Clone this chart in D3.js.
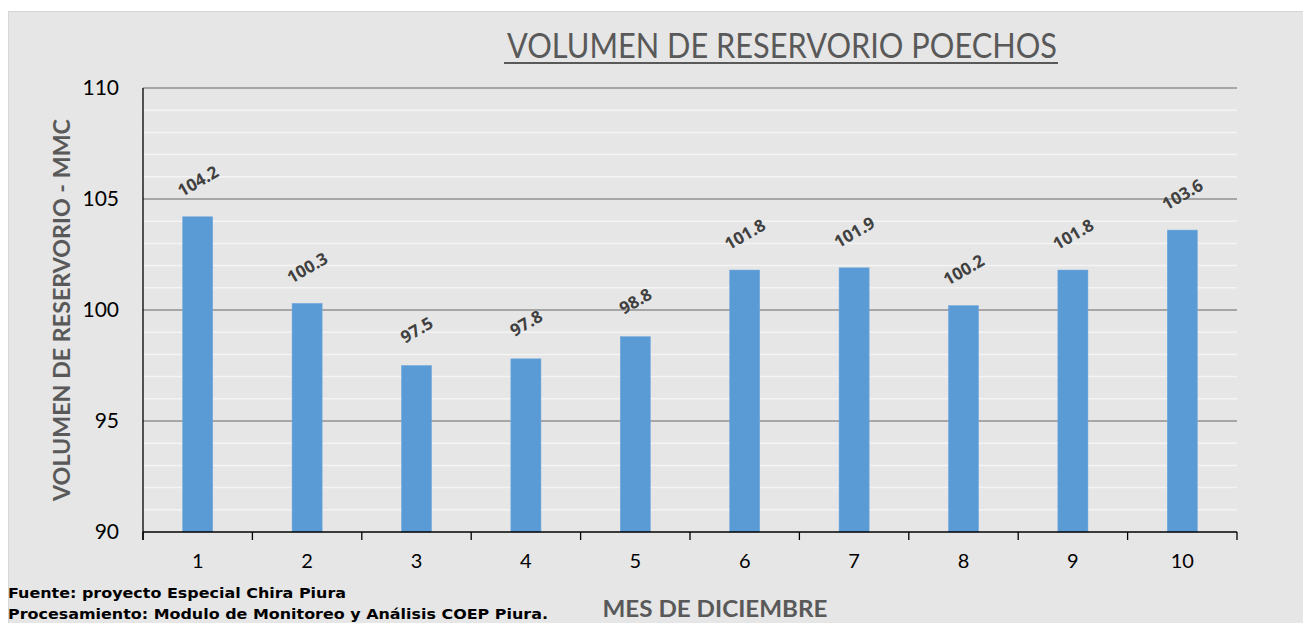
<!DOCTYPE html>
<html><head><meta charset="utf-8">
<script src="https://cdn.jsdelivr.net/npm/d3@7"></script>
<style>html,body{margin:0;padding:0;background:#fff;}svg{display:block;}</style>
</head><body>
<svg id="chart" width="1303" height="623"></svg>
<script>
const categories = ["1","2","3","4","5","6","7","8","9","10"];
const values = [104.2,100.3,97.5,97.8,98.8,101.8,101.9,100.2,101.8,103.6];
const yTicks = [90,95,100,105,110];
const minorTicks = [91,92,93,94,96,97,98,99,101,102,103,104,106,107,108,109];
const title = "VOLUMEN DE RESERVORIO POECHOS";
const yTitle = "VOLUMEN DE RESERVORIO - MMC";
const xTitle = "MES DE DICIEMBRE";
const notes = ["Fuente: proyecto Especial Chira Piura","Procesamiento: Modulo de Monitoreo y Análisis COEP Piura."];
const noteLengths = [338, 540];

const svg = d3.select("#chart");
const W = 1303, H = 623;
const m = {left:143, right:1237, top:88, bottom:532};

svg.append("rect").attr("x",8.5).attr("y",11.5).attr("width",W).attr("height",H)
  .attr("fill","#e6e6e6").attr("stroke","#d6d6d6").attr("stroke-width",1);

const x = d3.scaleBand().domain(categories).range([m.left,m.right]).paddingInner(0.725).paddingOuter(0.3625);
const xb = d3.scaleBand().domain(categories).range([m.left,m.right]);
const y = d3.scaleLinear().domain([90,110]).range([m.bottom,m.top]);

// minor grid
svg.append("g").selectAll("line").data(minorTicks).join("line")
  .attr("x1",m.left).attr("x2",m.right).attr("y1",d=>y(d)).attr("y2",d=>y(d))
  .attr("stroke","#f4f4f4").attr("stroke-width",1.5);
// major grid
svg.append("g").selectAll("line").data(yTicks.filter(d=>d>90)).join("line")
  .attr("x1",m.left).attr("x2",m.right).attr("y1",d=>y(d)).attr("y2",d=>y(d))
  .attr("stroke","#a6a6a6").attr("stroke-width",2);

// bars
svg.append("g").selectAll("rect").data(values).join("rect")
  .attr("x",(d,i)=>x(categories[i])).attr("width",x.bandwidth())
  .attr("y",d=>y(d)).attr("height",d=>y(90)-y(d))
  .attr("fill","#5b9bd5").attr("stroke","#6fa8dc").attr("stroke-width",0.5);

// y axis
const ya = svg.append("g").attr("transform",`translate(${m.left},0)`)
  .call(d3.axisLeft(y).tickValues(yTicks).tickSize(0).tickPadding(24).tickFormat(d3.format("d")));
ya.select(".domain").attr("stroke","#000").attr("stroke-width",1.3).attr("d",`M0,${m.top}V${m.bottom+8}`);
ya.selectAll("text").attr("font-family","Lato, Carlito, sans-serif").attr("font-size",21).attr("fill","#000");

// x axis
const xa = svg.append("g").attr("transform",`translate(0,${m.bottom})`)
  .call(d3.axisBottom(xb).tickSize(0).tickPadding(22));
xa.select(".domain").attr("stroke","#000").attr("stroke-width",1.3).attr("d",`M${m.left},0H${m.right}`);
xa.selectAll("text").attr("font-family","Lato, Carlito, sans-serif").attr("font-size",20).attr("fill","#000");
const bounds = categories.map(c=>xb(c)).concat([m.right]);
svg.append("g").selectAll("line").data(bounds).join("line")
  .attr("x1",d=>d).attr("x2",d=>d).attr("y1",m.bottom).attr("y2",m.bottom+8)
  .attr("stroke","#000").attr("stroke-width",1.3);

// data labels
svg.append("g").selectAll("text").data(values).join("text")
  .attr("transform",(d,i)=>`translate(${xb(categories[i])+xb.bandwidth()/2},${y(d)-36}) rotate(-30)`)
  .attr("text-anchor","middle").attr("dominant-baseline","central")
  .attr("font-family","'Open Sans', sans-serif").attr("font-weight","bold").attr("font-size",17)
  .attr("fill","#404040").text(d=>d3.format(".1f")(d));

// title
const t = svg.append("text").attr("x",782).attr("y",58).attr("text-anchor","middle")
  .attr("font-family","Lato, Carlito, sans-serif").attr("font-size",34).attr("fill","#595959").text(title);
t.attr("textLength",550).attr("lengthAdjust","spacingAndGlyphs");
svg.append("line").attr("x1",782-278).attr("x2",782+276).attr("y1",63).attr("y2",63)
  .attr("stroke","#595959").attr("stroke-width",2);

// axis titles
svg.append("text").attr("transform",`translate(70,310) rotate(-90)`).attr("text-anchor","middle")
  .attr("font-family","Lato, Carlito, sans-serif").attr("font-weight","bold").attr("font-size",23)
  .attr("fill","#595959").attr("textLength",382).attr("lengthAdjust","spacingAndGlyphs").text(yTitle);
svg.append("text").attr("x",715).attr("y",617).attr("text-anchor","middle")
  .attr("font-family","Lato, Carlito, sans-serif").attr("font-weight","bold").attr("font-size",23)
  .attr("fill","#595959").attr("textLength",225).attr("lengthAdjust","spacingAndGlyphs").text(xTitle);

// notes
svg.append("g").selectAll("text").data(notes).join("text")
  .attr("x",8).attr("y",(d,i)=>598+i*21)
  .attr("font-family","'DejaVu Sans', sans-serif").attr("font-weight","bold").attr("font-size",14.5)
  .attr("textLength",(d,i)=>noteLengths[i]).attr("lengthAdjust","spacingAndGlyphs")
  .attr("fill","#000").text(d=>d);
</script>
</body></html>
